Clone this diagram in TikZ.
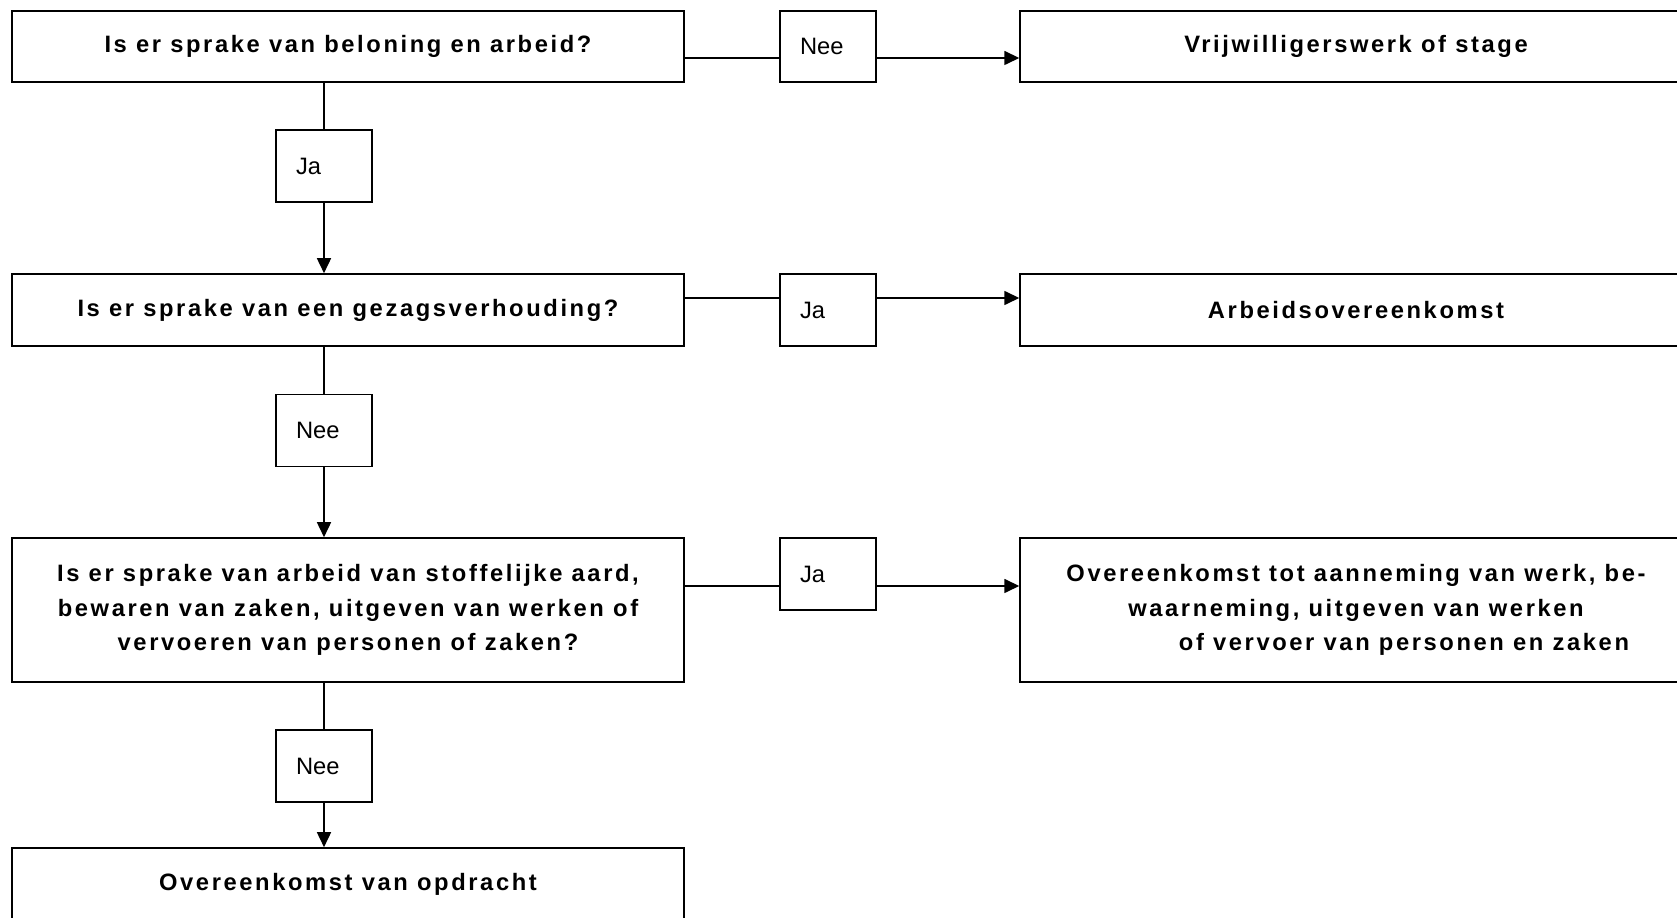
\documentclass[tikz,border=0pt]{standalone}
\usepackage{fontspec}
\setmainfont{Liberation Sans}
\newfontfamily\qfont{Liberation Sans}[LetterSpace=11]
\usepackage{tikz}
\usetikzlibrary{arrows.meta}

\begin{document}
\begin{tikzpicture}[x = .02cm, y = -.02cm, >={Triangle[length=.3cm, width=.28cm]}, line width = .9pt,
  vraag/.style = {draw, minimum width = 13.44cm, align = center, font = \qfont\bfseries\fontsize{13.5}{19.8}\selectfont},
  keuze/.style = {draw, minimum width = 1.92cm, minimum height = 1.44cm, text width = 1.12cm, align = left, font = \fontsize{13.5}{16}\selectfont}]
\def\bx{348}
\def\rx{1356}
\useasboundingbox (0, 0) rectangle (1677, 918);
\begin{scope}
\clip (0, 0) rectangle (1677, 918);

% linker kolom
\node [vraag, minimum height = 1.42cm] (qa) at (\bx, 46.5) {Is er sprake van beloning en arbeid?};
\node [vraag, minimum height = 1.44cm] (qb) at (\bx, 310) {Is er sprake van een gezagsverhouding?};
\node [vraag, minimum height = 2.88cm] (qc) at (\bx, 610) {Is er sprake van arbeid van stoffelijke aard,\\bewaren van zaken, uitgeven van werken of\\vervoeren van personen of zaken?};
\node [vraag, minimum height = 1.44cm] (qd) at (\bx, 884) {Overeenkomst van opdracht};

% rechter kolom
\node [vraag, minimum height = 1.42cm] (ra) at (\rx, 46.5) {Vrijwilligerswerk of stage};
\node [vraag, minimum height = 1.44cm] (rb) at (\rx, 310) {Arbeidsovereenkomst};
\node [vraag, minimum height = 2.88cm] (rc) at (\rx, 610) {Overeenkomst tot aanneming van werk, be-\\waarneming, uitgeven van werken\\\hspace*{1.92cm}of vervoer van personen en zaken};

% antwoorden
\node [keuze, minimum height = 1.42cm] (la) at (828, 46.5) {Nee};
\node [keuze] (lb) at (324, 166) {Ja};
\node [keuze] (lc) at (828, 310) {Ja};
\node [keuze] (ld) at (324, 430.5) {Nee};
\node [keuze] (le) at (828, 574) {Ja};
\node [keuze] (lf) at (324, 766) {Nee};

% naar beneden
\draw (qa.south -| lb.north) -- (lb.north);
\draw [->] (lb.south) -- (qb.north -| lb.south);
\draw (qb.south -| ld.north) -- (ld.north);
\draw [->] (ld.south) -- (qc.north -| ld.south);
\draw (qc.south -| lf.north) -- (lf.north);
\draw [->] (lf.south) -- (qd.north -| lf.south);

% naar rechts
\draw ([yshift = -.23cm] qa.east) -- ([yshift = -.23cm] qa.east -| la.west);
\draw [->] ([yshift = -.23cm] la.east) -- ([yshift = -.23cm] la.east -| ra.west);
\draw ([yshift = .24cm] qb.east) -- ([yshift = .24cm] qb.east -| lc.west);
\draw [->] ([yshift = .24cm] lc.east) -- ([yshift = .24cm] lc.east -| rb.west);
\draw ([yshift = -.24cm] le.west -| qc.east) -- ([yshift = -.24cm] le.west);
\draw [->] ([yshift = -.24cm] le.east) -- ([yshift = -.24cm] le.east -| rc.west);
\end{scope}
\end{tikzpicture}
\end{document}
